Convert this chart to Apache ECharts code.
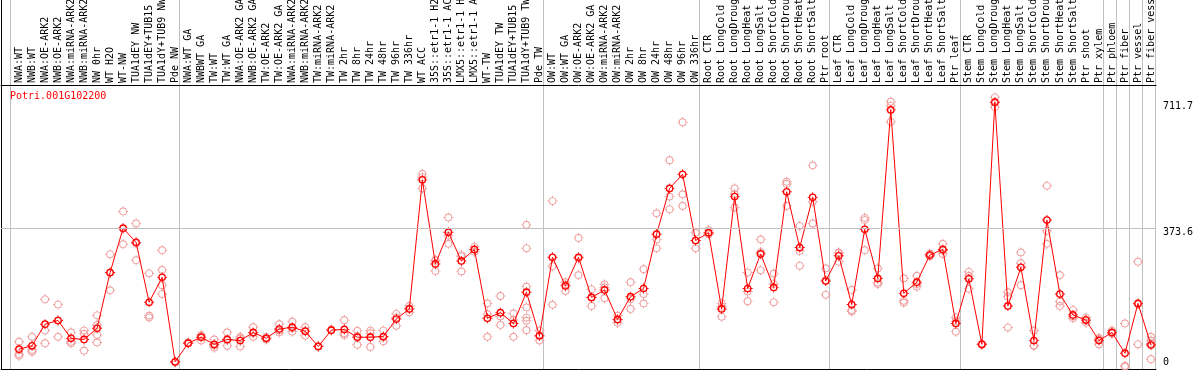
<!DOCTYPE html>
<html><head><meta charset="utf-8">
<script src="https://cdn.jsdelivr.net/npm/echarts@6/dist/echarts.min.js"></script>
<style>html,body{margin:0;padding:0;background:#fff}#c{width:1194px;height:370px}</style>
</head><body><div id="c"></div>
<script>
const geneId = 'Potri.001G102200';

const categories = [
  'NWA:WT','NWB:WT','NWA:OE-ARK2','NWB:OE-ARK2','NWA:miRNA-ARK2','NWB:miRNA-ARK2','NW 0hr','WT H2O','WT-NW','TUA1dEY NW','TUA1dEY+TUB15 NW','TUA1dY+TUB9 NW','Pde NW',
  'NWA:WT GA','NWBWT GA','TW:WT','TW:WT GA','NWA:OE-ARK2 GA','NWB:OE-ARK2 GA','TW:OE-ARK2','TW:OE-ARK2 GA','NWA:miRNA-ARK2 GA','NWB:miRNA-ARK2 GA','TW:miRNA-ARK2','TW:miRNA-ARK2 GA','TW 2hr','TW 8hr','TW 24hr','TW 48hr','TW 96hr','TW 336hr','WT ACC','35S::etr1-1 H2O','35S::etr1-1 ACC','LMX5::etr1-1 H2O','LMX5::etr1-1 ACC','WT-TW','TUA1dEY TW','TUA1dEY+TUB15 TW','TUA1dY+TUB9 TW','Pde TW',
  'OW:WT','OW:WT GA','OW:OE-ARK2','OW:OE-ARK2 GA','OW:miRNA-ARK2','OW:miRNA-ARK2 GA','OW 2hr','OW 8hr','OW 24hr','OW 48hr','OW 96hr','OW 336hr',
  'Root CTR','Root LongCold','Root LongDrought','Root LongHeat','Root LongSalt','Root ShortCold','Root ShortDrought','Root ShortHeat','Root ShortSalt','Ptr root',
  'Leaf CTR','Leaf LongCold','Leaf LongDrought','Leaf LongHeat','Leaf LongSalt','Leaf ShortCold','Leaf ShortDrought','Leaf ShortHeat','Leaf ShortSalt','Ptr leaf',
  'Stem CTR','Stem LongCold','Stem LongDrought','Stem LongHeat','Stem LongSalt','Stem ShortCold','Stem ShortDrought','Stem ShortHeat','Stem ShortSalt','Ptr shoot','Ptr xylem',
  'Ptr phloem','Ptr fiber','Ptr vessel','Ptr fiber vessel'
];

// number of categories in each block separated by a vertical rule
const groupSizes = [13, 28, 12, 10, 10, 11, 1, 1, 1, 1];

// mean expression per category
const means = [
  48, 57, 115, 125, 77, 74, 104, 254, 373, 335, 174, 241, 14,
  64, 80, 61, 74, 71, 93, 77, 102, 107, 96, 55, 99, 101, 80, 80, 82, 129, 156, 503, 277, 362, 285, 316, 131, 146, 117, 201, 84,
  295, 218, 295, 187, 207, 128, 189, 211, 357, 480, 518, 340,
  361, 156, 458, 211, 304, 214, 471, 321, 456, 231,
  299, 168, 370, 238, 691, 198, 228, 301, 316, 117,
  237, 61, 711.7, 164, 268, 71, 395, 196, 140, 126, 71,
  93, 37, 171, 59
];

// replicate values per category
const reps = [
  [68, 35, 30], [81, 46, 41], [182, 98, 64], [168, 81, 125], [93, 68, 64], [98, 89, 44], [139, 113, 86, 66], [303, 206, 253], [418, 330, 372], [386, 287, 332], [252, 138, 133], [314, 261, 220, 196], [14, 12],
  [64, 66], [86, 71, 83], [74, 52, 58], [93, 57, 72], [81, 55, 77], [107, 81, 91], [74, 77, 80], [115, 93, 98], [122, 95, 104], [107, 84, 97], [55, 57], [99, 101], [126, 91, 86], [97, 60, 83], [98, 91, 54], [98, 69, 79], [143, 111, 133], [164, 147, 157], [519, 510, 480], [288, 258, 285], [402, 331, 353], [301, 257, 297], [323, 310, 315], [171, 142, 81], [191, 113, 136], [144, 81, 126], [382, 319, 216, 160, 133, 124, 99], [98, 71, 83],
  [446, 271, 167], [222, 204, 228], [347, 247, 291], [209, 164, 188], [222, 185, 214], [138, 119, 127], [228, 156, 183], [263, 196, 171], [413, 343, 319], [556, 458, 424], [658, 464, 433], [361, 319, 340],
  [368, 356, 359], [171, 135, 162], [480, 429, 465], [254, 203, 177], [343, 260, 309], [251, 223, 174], [498, 492, 433], [379, 272, 312], [542, 444, 386], [265, 194, 234],
  [308, 283, 306], [207, 153, 149], [401, 395, 314], [265, 227, 223], [713, 702, 659], [238, 178, 173], [245, 216, 223], [297, 305, 301], [331, 304, 313], [133, 95, 123],
  [256, 210, 245], [61, 62, 60], [725, 711, 699], [201, 189, 106], [308, 279, 220], [98, 57, 58], [487, 366, 331], [247, 176, 164], [153, 136, 131], [133, 126, 119], [61, 74, 78],
  [98, 90, 91], [117, 3, 1], [283, 61, 169], [81, 71, 21, 63]
];

// right-hand tick labels
const yTicks = [0, 373.6, 711.7];
const yMax = 2 * yTicks[1];

const groupStarts = [];
let acc = 0;
groupSizes.forEach(s => { groupStarts.push(acc); acc += s; });

const repPoints = [];
reps.forEach((arr, i) => arr.forEach(v => repPoints.push([i, v])));

function ringPath(ri) {
  const c = 11, ro = 8.5, t = 11 - ro;
  return 'path://' +
    `M${c - ro},${c}A${ro},${ro} 0 1,1 ${c + ro},${c}A${ro},${ro} 0 1,1 ${c - ro},${c}Z` +
    `M${c - ri},${c}A${ri},${ri} 0 1,0 ${c + ri},${c}A${ri},${ri} 0 1,0 ${c - ri},${c}Z` +
    `M10,0h2v${t}h-2Z` +
    `M10,${22 - t}h2v${t}h-2Z` +
    `M0,10h${t}v2h-${t}Z` +
    `M${22 - t},10h${t}v2h-${t}Z`;
}

const FONT = 'DejaVu Sans Mono';
const hidden = { axisLine: { show: false }, axisTick: { show: false }, axisLabel: { show: false }, splitLine: { show: false } };
const blackLine = { show: true, onZero: false, lineStyle: { color: '#000', width: 1 } };
const gridBase = { outerBoundsMode: 'none', containLabel: false };

const chart = echarts.init(document.getElementById('c'), null, { renderer: 'canvas' });
chart.setOption({
  animation: false,
  backgroundColor: '#fff',
  title: {
    text: geneId, left: 10, top: 91, padding: 0,
    textStyle: { fontFamily: FONT, fontSize: 10, fontWeight: 'normal', color: '#ff0000' }
  },
  grid: [
    Object.assign({}, gridBase, { left: 1, right: 38, top: 0, bottom: 1 }),
    Object.assign({}, gridBase, { left: 1, right: 38, top: 89, bottom: 3 }),
    Object.assign({}, gridBase, { left: 10, right: 39, top: 0, bottom: 1 }),
    Object.assign({}, gridBase, { left: 12.5, right: 36.5, top: 89, bottom: 3 })
  ],
  xAxis: [
    Object.assign({}, hidden, { gridIndex: 0, type: 'value', min: 0, max: 1, position: 'bottom', axisLine: blackLine }),
    Object.assign({}, hidden, { gridIndex: 1, type: 'value', min: 0, max: 1, position: 'top', offset: 4, axisLine: blackLine }),
    Object.assign({}, hidden, {
      gridIndex: 2, type: 'category', data: categories,
      splitLine: { show: true, interval: (i) => groupStarts.indexOf(i) >= 0, lineStyle: { color: '#c0c0c0', width: 1 } }
    }),
    Object.assign({}, hidden, {
      gridIndex: 3, type: 'category', data: categories, position: 'top',
      axisLabel: { show: true, interval: 0, rotate: 90, margin: 6, fontFamily: FONT, fontSize: 10, color: '#000' }
    })
  ],
  yAxis: [
    Object.assign({}, hidden, { gridIndex: 0, type: 'value', min: 0, max: 1, position: 'left', axisLine: blackLine }),
    Object.assign({}, hidden, { gridIndex: 1, type: 'value', min: 0, max: yMax }),
    Object.assign({}, hidden, { gridIndex: 2, type: 'value', min: 0, max: 1 }),
    Object.assign({}, hidden, {
      gridIndex: 3, type: 'value', min: 0, max: yMax, position: 'right',
      axisLabel: {
        show: true, customValues: yTicks, margin: 5.5, fontFamily: FONT, fontSize: 10, color: '#000',
        formatter: v => v === 0 ? '{b|0}' : '{t|' + v + '}',
        rich: {
          t: { padding: [9, 0, 0, 0], fontFamily: FONT, fontSize: 10, color: '#000' },
          b: { padding: [0, 0, 9, 0], fontFamily: FONT, fontSize: 10, color: '#000' }
        }
      }
    })
  ],
  series: [
    {
      type: 'scatter', xAxisIndex: 1, yAxisIndex: 1, data: [], silent: true,
      markLine: {
        silent: true, symbol: ['none', 'none'], label: { show: false },
        lineStyle: { color: '#c0c0c0', width: 1, type: 'solid' },
        emphasis: { disabled: true },
        data: [{ yAxis: yTicks[1] }]
      }
    },
    {
      type: 'scatter', xAxisIndex: 3, yAxisIndex: 3, data: repPoints,
      symbol: ringPath(6.5), symbolSize: 10, symbolKeepAspect: true,
      itemStyle: { color: '#ee9a9a', opacity: 1 }, z: 2, clip: false, silent: true
    },
    {
      type: 'line', xAxisIndex: 3, yAxisIndex: 3, data: means,
      symbol: ringPath(5.5), symbolSize: 10, symbolKeepAspect: true, showAllSymbol: true,
      itemStyle: { color: '#ff0000' }, lineStyle: { color: '#ff0000', width: 1 },
      z: 3, clip: false, silent: true
    }
  ]
});
</script></body></html>
